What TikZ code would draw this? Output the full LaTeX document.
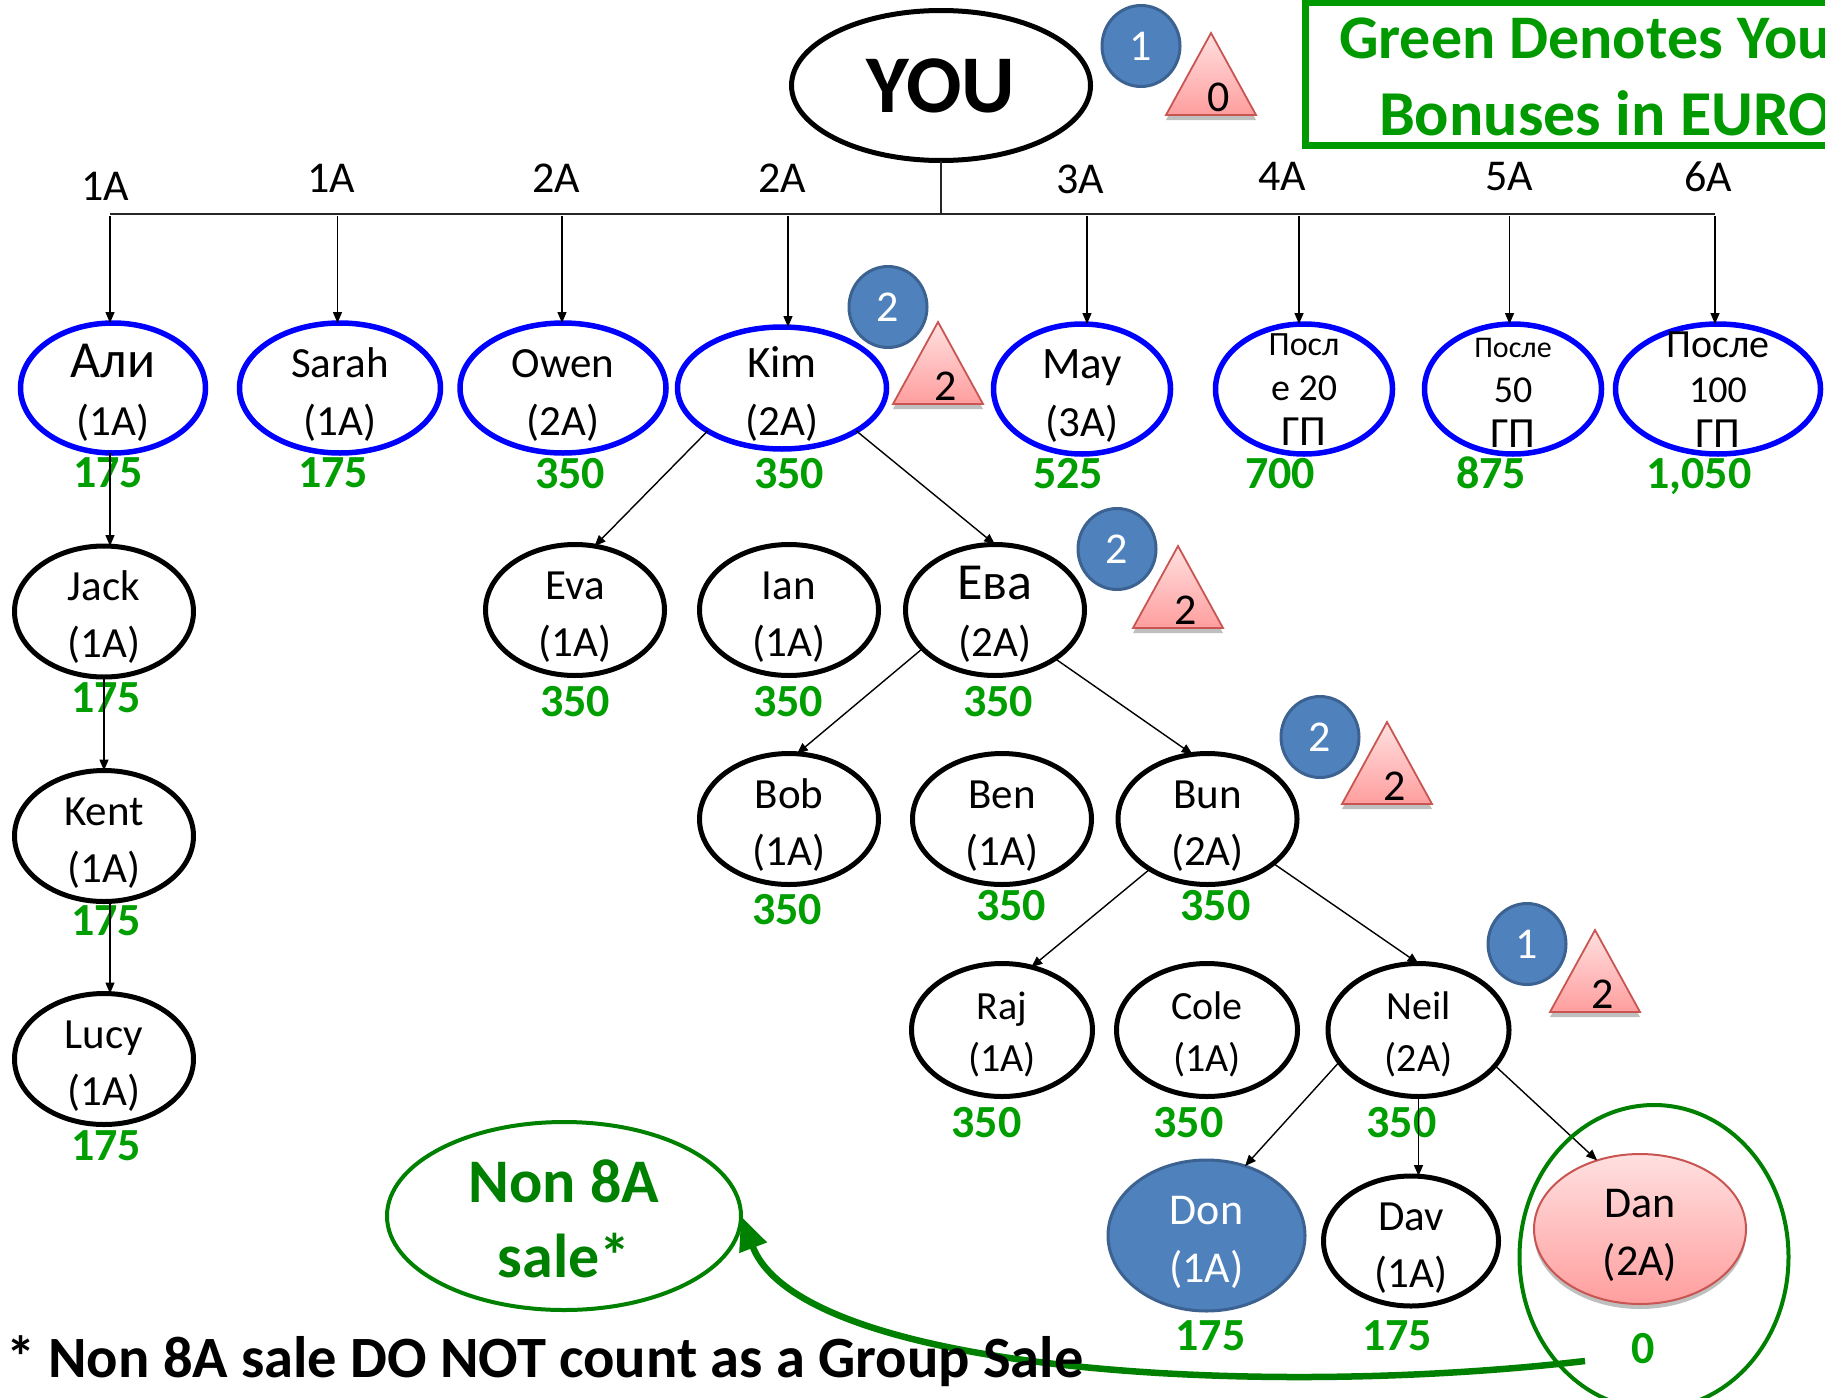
\documentclass[tikz,border=0pt]{standalone}
\usepackage{fontspec}
\setmainfont{Carlito}
\usetikzlibrary{shapes.geometric,arrows.meta,shadows}
\definecolor{numgreen}{RGB}{0,158,0}
\definecolor{titlegreen}{RGB}{0,153,0}
\definecolor{dkgreen}{RGB}{0,128,0}
\definecolor{badgeblue}{RGB}{79,129,189}
\definecolor{badgeedge}{RGB}{60,98,145}
\definecolor{pinktop}{RGB}{255,224,224}
\definecolor{pinkbot}{RGB}{255,158,158}
\definecolor{pinkedge}{RGB}{200,85,82}
\newcommand\fs[1]{\fontsize{#1}{#1}\selectfont}
\newcommand\tlines[3]{\makebox[0pt]{\raisebox{-#1pt}[0pt][0pt]{\vbox{\baselineskip=#2pt\lineskiplimit=-1000pt\lineskip=0pt\halign{\hfil##\hfil\cr#3\crcr}}}}}
\begin{document}
\begin{tikzpicture}[x=1pt,y=-1pt,
  every node/.style={inner sep=0pt, outer sep=0pt},
  sz/.style 2 args={minimum width=#1pt, minimum height=#2pt},
  person/.style={ellipse, draw=black, line width=5pt, font=\fs{43}},
  lvlone/.style={ellipse, draw=blue, line width=5.5pt, font=\fs{43}},
  conn/.style={draw=black, line width=1.4pt, -{Triangle[length=11pt,width=9pt]}},
  barline/.style={draw=black!85, line width=2.5pt},
  num/.style={text=numgreen, font=\bfseries\fs{46}, text depth=0pt},
  lvl/.style={font=\fs{44}},
  badge/.style={ellipse, fill=badgeblue, draw=badgeedge, line width=3pt, sz={78}{81}, text=white, font=\fs{44}},
  trishape/.style={top color=pinktop, bottom color=pinkbot, draw=pinkedge, line width=1.8pt,
     drop shadow={shadow xshift=0pt, shadow yshift=-5pt, opacity=0.25, fill=black}},
  trinum/.style={font=\fs{44}},
  titletext/.style={text=titlegreen, font=\bfseries\fs{62}},
]
\useasboundingbox (0,0) rectangle (1825,1397);
\clip (0,0) rectangle (1825,1397);

% title box
\node[rectangle, draw=titlegreen, line width=7pt, minimum width=560pt, minimum height=142pt, anchor=north west] (title) at (1305,3) {};
\node[titletext, anchor=base west] (titleA) at (1339,59) {Green Denotes You};
\node[titletext, anchor=base west, font=\bfseries\fs{64}] (titleB) at (1379,135) {Bonuses in EURO};

% YOU
\node[person, sz={299}{150}, font=\bfseries\fs{82}] (you) at (941,85.5) {YOU};
\node[badge] (bYou) at (1141,46) {1};

% bar
\coordinate (barL) at (110,214);
\coordinate (barR) at (1715,214);
\draw[barline] (barL) -- (barR);
\draw[barline] (you.south) -- (you.south |- barL);

% level labels
\node[lvl] (l1) at (105,186) {1A};
\node[lvl] (l2) at (331.5,178.5) {1A};
\node[lvl] (l3) at (556,178.5) {2A};
\node[lvl] (l4) at (782,178.5) {2A};
\node[lvl] (l5) at (1080,179) {3A};
\node[lvl] (l6) at (1282,176.5) {4A};
\node[lvl] (l7) at (1509,176.5) {5A};
\node[lvl] (l8) at (1708,176.5) {6A};

% level-1 nodes
\node[lvlone, sz={185}{130}] (ali) at (113,388) {\tlines{47}{58}{\fs{52}Али\cr(1A)}};
\node[lvlone, sz={201}{130}] (sarah) at (340,388) {\tlines{47}{58}{Sarah\cr(1A)}};
\node[lvlone, sz={206}{130}] (owen) at (563,388) {\tlines{47}{58}{Owen\cr(2A)}};
\node[lvlone, sz={209}{122}] (kim) at (782,388) {\tlines{47}{58}{\fs{45}Kim\cr(2A)}};
\node[lvlone, sz={177}{130}] (may) at (1082,389) {\tlines{47}{58}{\fs{45}May\cr(3A)}};
\node[lvlone, sz={177}{130}] (p20) at (1304,389) {\tlines{56}{45}{\fs{34}Посл\cr\fs{38}е 20\cr\fs{43}ГП}};
\node[lvlone, sz={177}{130}] (p50) at (1513,389) {\tlines{58}{45}{\fs{30}После\cr\fs{38}50\cr\fs{43}ГП}};
\node[lvlone, sz={205}{130}] (p100) at (1718,389) {\tlines{58}{45}{\fs{40}После\cr\fs{38}100\cr\fs{43}ГП}};

\coordinate (a1) at (110,216);
\coordinate (a2) at (337.5,216);
\coordinate (a3) at (562,216);
\coordinate (a4) at (788,216);
\coordinate (a5) at (1087,216);
\coordinate (a6) at (1299,216);
\coordinate (a7) at (1509.5,216);
\coordinate (a8) at (1715,216);
\draw[conn] (a1) -- (a1 |- ali.north);
\draw[conn] (a2) -- (a2 |- sarah.north);
\draw[conn] (a3) -- (a3 |- owen.north);
\draw[conn] (a4) -- (a4 |- kim.north);
\draw[conn] (a5) -- (a5 |- may.north);
\draw[conn] (a6) -- (a6 |- p20.north);
\draw[conn] (a7) -- (a7 |- p50.north);
\draw[conn] (a8) -- (a8 |- p100.north);

\node[num] (nAli) at (108,473) {175};
\node[num] (nSarah) at (333,473) {175};
\node[num] (nOwen) at (570,473) {350};
\node[num] (nKim) at (789,473) {350};
\node[num] (nMay) at (1068,473) {525};
\node[num] (nP20) at (1280,473) {700};
\node[num] (nP50) at (1491,473) {875};
\node[num] (nP100) at (1699,473) {1,050};

% Ali chain
\node[person, sz={179}{131}] (jack) at (104,611.5) {\tlines{46}{57}{Jack\cr(1A)}};
\node[person, sz={179}{131}] (kent) at (104,836) {\tlines{46}{57}{Kent\cr(1A)}};
\node[person, sz={179}{131}] (lucy) at (104,1059) {\tlines{46}{57}{Lucy\cr(1A)}};
\node[num] (nJack) at (106,697.5) {175};
\node[num] (nKent) at (106,921) {175};
\node[num] (nLucy) at (106,1146) {175};
\draw[conn] ([xshift=-3pt]ali.south) -- ([xshift=6pt]jack.north);
\draw[conn] (jack.south) -- (kent.north);
\draw[conn] ([xshift=6pt]kent.south) -- ([xshift=6pt]lucy.north);

% Kim subtree
\node[badge] (bKim) at (888,307) {2};
\node[person, sz={179}{131}] (eva) at (575,610) {\tlines{46}{57}{Eva\cr(1A)}};
\node[person, sz={179}{131}] (ian) at (789,610) {\tlines{46}{57}{Ian\cr(1A)}};
\node[person, sz={179}{131}] (eva2) at (995,610) {\tlines{46}{57}{\fs{52}Ева\cr(2A)}};
\node[num] (nEva) at (575,701) {350};
\node[num] (nIan) at (788,701) {350};
\node[num] (nEva2) at (998,701) {350};
\draw[conn] (kim.210) -- (eva.73);
\draw[conn] (kim.330) -- (eva2.north);
\node[badge] (bEva2) at (1117,549) {2};

\node[person, sz={179}{131}] (bob) at (789,819) {\tlines{46}{57}{Bob\cr(1A)}};
\node[person, sz={179}{131}] (ben) at (1002,819) {\tlines{46}{57}{Ben\cr(1A)}};
\node[person, sz={179}{131}] (bun) at (1207.5,819) {\tlines{46}{57}{Bun\cr(2A)}};
\node[num] (nBob) at (787,909) {350};
\node[num] (nBen) at (1011,905.5) {350};
\node[num] (nBun) at (1215.5,905.5) {350};
\draw[conn] (eva2.208) -- (bob.83);
\draw[conn] (eva2.321) -- (bun.103);
\node[badge] (bBun) at (1320,737) {2};

\node[person, sz={181}{133}, font=\fs{40}] (raj) at (1002,1030) {\tlines{41}{52}{Raj\cr(1A)}};
\node[person, sz={181}{133}, font=\fs{40}] (cole) at (1207,1030) {\tlines{41}{52}{Cole\cr(1A)}};
\node[person, sz={181}{133}, font=\fs{40}] (neil) at (1418.5,1030) {\tlines{41}{52}{Neil\cr(2A)}};
\node[num] (nRaj) at (986.5,1122) {350};
\node[num] (nCole) at (1188.5,1122) {350};
\node[num] (nNeil) at (1401.5,1122) {350};
\draw[conn] (bun.221) -- (raj.65);
\draw[conn] (bun.326) -- (neil.north);
\node[badge] (bNeil) at (1527,944) {1};

\node[ellipse, fill=badgeblue, draw=badgeedge, line width=3pt, sz={197}{151}, text=white, font=\fs{44}] (don) at (1206.5,1235.5) {\tlines{46.5}{58}{Don\cr(1A)}};
\node[person, sz={175}{130}] (dav) at (1411,1241) {\tlines{46}{57}{Dav\cr(1A)}};
\node[ellipse, top color=pinktop, bottom color=pinkbot, draw=pinkedge, line width=2pt, sz={212}{150}, font=\fs{44},
      drop shadow={shadow xshift=0pt, shadow yshift=-5pt, opacity=0.25, fill=black}] (dan) at (1640,1229) {\tlines{46.5}{58}{Dan\cr(2A)}};
\node[num] (nDon) at (1210.5,1335.5) {175};
\node[num] (nDav) at (1397,1335.5) {175};
\node[num] (nDan) at (1643,1348) {0};
\draw[conn] (neil.202) -- (don.61);
\draw[conn] (neil.south) -- (neil.south |- dav.north);
\draw[conn] (neil.335) -- (dan.122);

% triangles
\path[trishape] (1211,33) -- ++(45,82) -- ++(-90,0) -- cycle;
\node[trinum] (tYou) at (1219,97) {0};
\path[trishape] (938,322) -- ++(45,82) -- ++(-90,0) -- cycle;
\node[trinum] (tKim) at (946,386) {2};
\path[trishape] (1178,546) -- ++(45,82) -- ++(-90,0) -- cycle;
\node[trinum] (tEva2) at (1186,610) {2};
\path[trishape] (1387,722) -- ++(45,82) -- ++(-90,0) -- cycle;
\node[trinum] (tBun) at (1395,786) {2};
\path[trishape] (1595,930) -- ++(45,82) -- ++(-90,0) -- cycle;
\node[trinum] (tNeil) at (1603,994) {2};

% non 8A
\node[ellipse, draw=dkgreen, line width=4pt, sz={269}{304}] (danring) at (1654,1257) {};
\node[ellipse, draw=dkgreen, line width=4pt, sz={354}{188}, text=dkgreen, font=\bfseries\fs{62}] (non8a) at (564,1216) {\tlines{61}{75}{Non 8A\cr sale*}};
\coordinate (gstart) at (1585,1361);
\draw[dkgreen, line width=6.5pt, -{Triangle[length=34pt,width=28pt]}] (gstart) .. controls (1250,1400) and (800,1370) .. (non8a.east);

\node[anchor=base west, font=\bfseries\fs{58.5}] (note) at (6,1377) {* Non 8A sale DO NOT count as a Group Sale};
\end{tikzpicture}
\end{document}
